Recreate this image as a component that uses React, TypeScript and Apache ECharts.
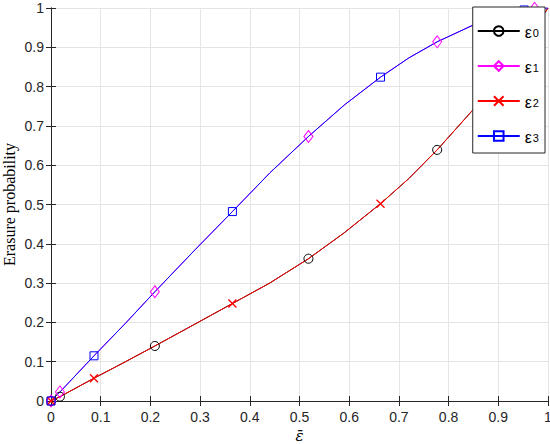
import React, { useEffect, useRef } from "react";
import * as echarts from "echarts";

// Shared abscissa samples (ε̄)
const xs = [0, 0.018, 0.0865, 0.15, 0.209, 0.29, 0.365, 0.44, 0.518, 0.59, 0.663, 0.72, 0.777, 0.852, 0.91, 0.952, 0.973, 1.0];
// Lower curve (ε0 and ε2 coincide)
const lowerY = [0, 0.011, 0.058, 0.1, 0.14, 0.196, 0.248, 0.3, 0.362, 0.428, 0.502, 0.566, 0.639, 0.745, 0.835, 0.909, 0.948, 1.0];
// Upper curve (ε1 and ε3 coincide)
const upperY = [0, 0.023, 0.115, 0.198, 0.278, 0.385, 0.482, 0.58, 0.673, 0.753, 0.824, 0.873, 0.914, 0.958, 0.982, 0.995, 0.999, 1.0];
// Sample indices that carry a marker
const markA = [0, 1, 4, 8, 12, 16];
const markB = [0, 2, 6, 10, 15];

const seriesNames = ["ε0", "ε1", "ε2", "ε3"];
const yTitle = "Erasure probability";
const xTitle = "ε̄";

const AXIS = "#262626";
const GRIDC = "#e4e4e4";

function build(ys: number[], idx: number[]) {
  return xs.map((x, i) =>
    idx.includes(i) ? { value: [x, ys[i]] } : { value: [x, ys[i]], symbol: "none" }
  );
}

export default function App() {
  const ref = useRef<HTMLDivElement>(null);
  useEffect(() => {
    document.body.style.margin = "0";
    const chart = echarts.init(ref.current!, undefined, { renderer: "svg" });
    const mkSeries = (
      name: string,
      ys: number[],
      idx: number[],
      color: string,
      symbol: string,
      size: number | number[],
      bw = 1
    ) => ({
      name,
      type: "line",
      data: build(ys, idx),
      smooth: false,
      symbol,
      symbolSize: size,
      showAllSymbol: true,
      lineStyle: { color, width: 1 },
      itemStyle: { color: "none", borderColor: color, borderWidth: bw },
      emphasis: { disabled: true },
    });
    const valAxisCommon = {
      type: "value",
      min: 0,
      max: 1,
      interval: 0.1,
      axisLine: { show: true, lineStyle: { color: AXIS, width: 1 } },
      axisTick: { show: true, inside: true, length: 5, lineStyle: { color: AXIS } },
    };
    const fmt = (v: number) => (v === 0 ? "0" : v === 1 ? "1" : v.toFixed(1));
    chart.setOption({
      animation: false,
      grid: { left: 51, right: 2, top: 8, bottom: 43, containLabel: false, outerBoundsMode: "none" },
      xAxis: [
        {
          ...valAxisCommon,
          position: "bottom",
          axisLabel: { color: AXIS, fontFamily: "Liberation Sans", fontSize: 14, margin: 9, formatter: fmt },
          splitLine: { show: true, lineStyle: { color: GRIDC, width: 1 } },
          name: xTitle,
          nameLocation: "middle",
          nameGap: 27,
          nameMoveOverlap: false,
          nameTextStyle: { fontFamily: "DejaVu Serif", fontStyle: "italic", fontSize: 15, color: "#000" },
        },
        {
          ...valAxisCommon,
          position: "top",
          axisLabel: { show: false },
          splitLine: { show: false },
        },
      ],
      yAxis: [
        {
          ...valAxisCommon,
          position: "left",
          axisLabel: { color: AXIS, fontFamily: "Liberation Sans", fontSize: 14, margin: 7, formatter: fmt },
          splitLine: { show: true, lineStyle: { color: GRIDC, width: 1 } },
          name: yTitle,
          nameLocation: "middle",
          nameGap: 34,
          nameMoveOverlap: false,
          nameTextStyle: { fontFamily: "Liberation Serif", fontSize: 16, color: "#000" },
        },
        {
          ...valAxisCommon,
          position: "right",
          axisLabel: { show: false },
          splitLine: { show: false },
        },
      ],
      legend: {
        orient: "vertical",
        right: 5,
        top: 7,
        backgroundColor: "#fff",
        borderColor: AXIS,
        borderWidth: 1,
        borderRadius: 0,
        padding: [9, 6, 8, 4],
        itemGap: 11,
        itemWidth: 42,
        itemHeight: 12,
        data: seriesNames,
        formatter: (n: string) => `{e|${n.charAt(0)}}{s|${n.slice(1)}}`,
        textStyle: {
          rich: {
            e: { fontFamily: "Liberation Sans", fontSize: 16, lineHeight: 14, verticalAlign: "top", color: "#000" },
            s: { fontFamily: "Liberation Sans", fontSize: 11, lineHeight: 10, padding: [11, 0, 0, 1], verticalAlign: "bottom", color: "#000" },
          },
        },
      },
      series: [
        mkSeries(seriesNames[0], lowerY, markA, "#000000", "circle", 9),
        mkSeries(seriesNames[1], upperY, markA, "#ff00ff", "diamond", [9, 12]),
        mkSeries(seriesNames[2], lowerY, markB, "#ff0000", "path://M0,0L10,10M10,0L0,10", 8, 1.3),
        mkSeries(seriesNames[3], upperY, markB, "#0000ff", "rect", 8),
      ],
    });
    return () => chart.dispose();
  }, []);
  return <div ref={ref} style={{ width: 550, height: 444 }} />;
}
